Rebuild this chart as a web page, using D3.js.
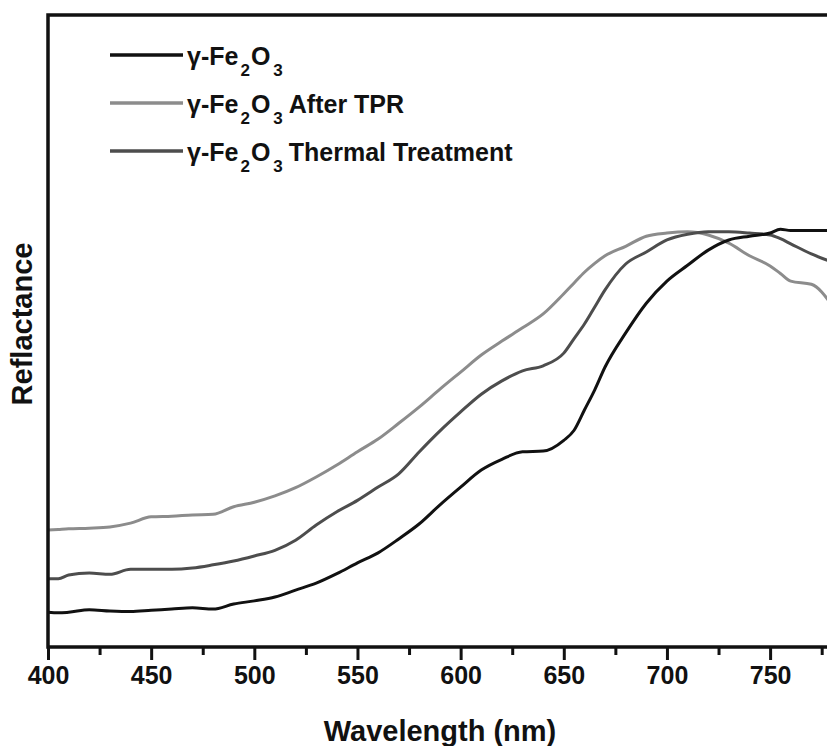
<!DOCTYPE html>
<html>
<head>
<meta charset="utf-8">
<script src="https://cdn.jsdelivr.net/npm/d3@7"></script>
<style>
  body { margin: 0; background: #fff; }
  text { font-family: "Liberation Sans", Arial, sans-serif; font-weight: bold; fill: #111; }
</style>
</head>
<body>
<script>
// wavelengths (nm)
const wavelength = [400, 405, 410, 420, 430, 440, 450, 460, 470, 480, 490, 500, 510, 520, 530, 540, 550, 560, 570, 580, 590, 600, 610, 620, 630, 640, 650, 655, 660, 665, 670, 680, 690, 700, 710, 720, 730, 740, 750, 755, 760, 770, 780];

const fe2o3 = [0.055, 0.054, 0.055, 0.059, 0.057, 0.056, 0.058, 0.060, 0.062, 0.060, 0.068, 0.073, 0.079, 0.090, 0.101, 0.116, 0.133, 0.149, 0.171, 0.195, 0.225, 0.253, 0.280, 0.297, 0.309, 0.310, 0.327, 0.343, 0.375, 0.407, 0.443, 0.497, 0.544, 0.579, 0.604, 0.628, 0.644, 0.650, 0.655, 0.661, 0.659, 0.659, 0.659];

const afterTPR = [0.185, 0.186, 0.187, 0.188, 0.190, 0.196, 0.206, 0.207, 0.209, 0.210, 0.222, 0.229, 0.239, 0.252, 0.269, 0.288, 0.309, 0.329, 0.354, 0.380, 0.408, 0.435, 0.462, 0.484, 0.505, 0.527, 0.559, 0.576, 0.593, 0.607, 0.619, 0.634, 0.650, 0.655, 0.657, 0.652, 0.639, 0.619, 0.603, 0.591, 0.579, 0.574, 0.541];

const thermal = [0.108, 0.108, 0.114, 0.117, 0.115, 0.123, 0.123, 0.123, 0.125, 0.130, 0.136, 0.144, 0.153, 0.169, 0.193, 0.214, 0.232, 0.253, 0.274, 0.309, 0.342, 0.372, 0.400, 0.421, 0.437, 0.445, 0.465, 0.488, 0.511, 0.538, 0.565, 0.606, 0.625, 0.644, 0.653, 0.657, 0.657, 0.655, 0.652, 0.646, 0.638, 0.622, 0.609];

const seriesNames = ["After TPR", "Thermal Treatment"];
const xTicks = [400, 450, 500, 550, 600, 650, 700, 750];
const xMinorTicks = [425, 475, 525, 575, 625, 675, 725, 775];

const width = 827, height = 746;
const margin = {top: 15, left: 48, bottom: 647};

const svg = d3.select('body').append('svg').attr('width', width).attr('height', height);

const x = d3.scaleLinear().domain([400, 780]).range([margin.left, 832]);
const y = d3.scaleLinear().domain([0, 1]).range([margin.bottom, margin.top]);

svg.append('clipPath').attr('id', 'plot-clip')
  .append('rect')
    .attr('x', margin.left).attr('y', margin.top)
    .attr('width', 832 - margin.left).attr('height', margin.bottom - margin.top);

const line = d3.line()
  .x((d, i) => x(wavelength[i]))
  .y(d => y(d))
  .curve(d3.curveMonotoneX);

const series = [
  {values: afterTPR, color: '#8c8c8c'},
  {values: thermal, color: '#4d4d4d'},
  {values: fe2o3, color: '#111'}
];

const g = svg.append('g').attr('clip-path', 'url(#plot-clip)');
g.selectAll('path.curve')
  .data(series)
  .enter()
  .append('path')
    .attr('class', 'curve')
    .attr('fill', 'none')
    .attr('stroke', d => d.color)
    .attr('stroke-width', 3)
    .attr('stroke-linejoin', 'round')
    .attr('d', d => line(d.values));

// frame
svg.append('rect')
  .attr('x', margin.left).attr('y', margin.top)
  .attr('width', 832 - margin.left).attr('height', margin.bottom - margin.top)
  .attr('fill', 'none').attr('stroke', '#111').attr('stroke-width', 3.5);

// x axis, major and minor ticks
const xAxis = svg.append('g')
  .attr('transform', `translate(0,${margin.bottom})`)
  .call(d3.axisBottom(x).tickValues(xTicks).tickSize(13).tickPadding(6).tickFormat(d3.format('d')));
xAxis.select('.domain').remove();
xAxis.selectAll('line').attr('stroke', '#111').attr('stroke-width', 3);
xAxis.selectAll('text').attr('font-size', 25).attr('fill', '#111')
  .style('font-family', '"Liberation Sans", Arial, sans-serif').style('font-weight', 'bold');

const xMinor = svg.append('g')
  .attr('transform', `translate(0,${margin.bottom})`)
  .call(d3.axisBottom(x).tickValues(xMinorTicks).tickSize(8).tickFormat(''));
xMinor.select('.domain').remove();
xMinor.selectAll('line').attr('stroke', '#111').attr('stroke-width', 3);

// axis titles
svg.append('text')
  .attr('x', 440).attr('y', 741)
  .attr('text-anchor', 'middle')
  .attr('font-size', 29)
  .text('Wavelength (nm)');

svg.append('text')
  .attr('transform', 'translate(32,324) rotate(-90)')
  .attr('text-anchor', 'middle')
  .attr('font-size', 29)
  .text('Reflactance');

// legend
const legendItems = [
  {suffix: '', color: '#111'},
  {suffix: seriesNames[0], color: '#8c8c8c'},
  {suffix: seriesNames[1], color: '#4d4d4d'}
];
const legend = svg.append('g');
legendItems.forEach((d, i) => {
  const ly = 55 + i * 48;
  legend.append('line')
    .attr('x1', 110).attr('x2', 183)
    .attr('y1', ly).attr('y2', ly)
    .attr('stroke', d.color).attr('stroke-width', 3.5);
  const t = legend.append('text')
    .attr('x', 187).attr('y', ly + 10)
    .attr('font-size', 25);
  t.append('tspan').text('γ-Fe');
  t.append('tspan').attr('dx', 2).attr('dy', 11).attr('font-size', 17).text('2');
  t.append('tspan').attr('dx', 1).attr('dy', -11).text('O');
  t.append('tspan').attr('dx', 3).attr('dy', 11).attr('font-size', 17).text('3');
  if (d.suffix) t.append('tspan').attr('dx', 6).attr('dy', -11).text(d.suffix);
});
</script>
</body>
</html>
